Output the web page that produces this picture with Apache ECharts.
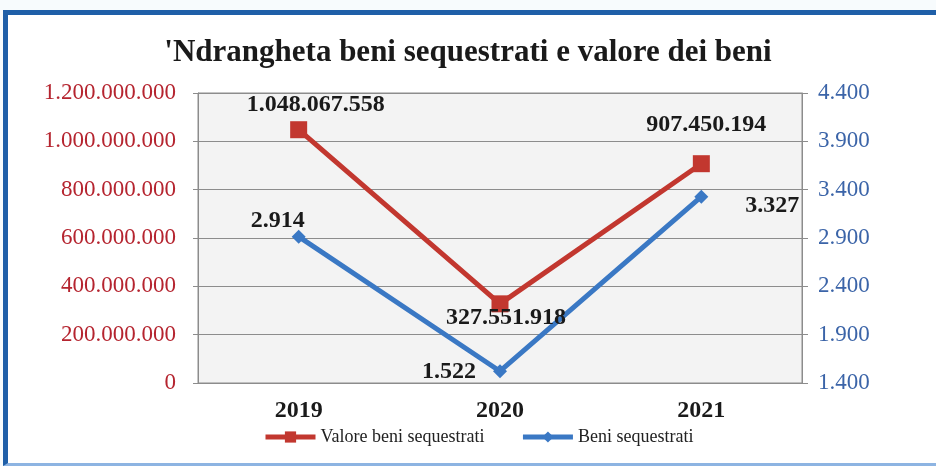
<!DOCTYPE html>
<html>
<head>
<meta charset="utf-8">
<script src="https://cdn.jsdelivr.net/npm/echarts@6/dist/echarts.min.js"></script>
<style>
  html, body { margin: 0; padding: 0; background: #f7fbfd; }
  #frame {
    position: absolute; left: 3px; top: 10px; width: 940px; height: 448px;
    border-top: 5px solid #1f5fa8; border-left: 5px solid #1f5fa8;
    border-bottom: 3px solid #8db4e2; background: #fff;
  }
  #main { position: absolute; left: 0; top: 0; width: 936px; height: 466px; }
</style>
</head>
<body>
<div id="frame"></div>
<div id="main"></div>
<script>
const years = ['2019', '2020', '2021']
const valoreBeni = [1048067558, 327551918, 907450194]
const beniSequestrati = [2914, 1522, 3327]
const leftTicks = [0, 1200000000, 200000000]
const rightTicks = [1400, 4400, 500]

const serif = '"Liberation Serif", "DejaVu Serif", serif'
const fmt = v => String(v).replace(/\B(?=(\d{3})+(?!\d))/g, '.')

// label placement per point
const redLabels = [
  { position: 'top', offset: [17, 1] },
  { position: 'bottom', offset: [6, -12] },
  { position: 'top', offset: [5, -13] }
]
const blueLabels = [
  { position: 'top', offset: [-21, 8] },
  { position: 'left', offset: [-12, 1] },
  { position: 'right', offset: [32, 9] }
]

const chart = echarts.init(document.getElementById('main'))
chart.setOption({
  backgroundColor: 'transparent',
  title: {
    text: "'Ndrangheta beni sequestrati e valore dei beni",
    left: 'center',
    top: 32,
    textStyle: { fontFamily: serif, fontWeight: 'bold', fontSize: 31, color: '#1a1a1a' }
  },
  legend: {
    top: 423,
    left: 258,
    itemWidth: 50,
    itemHeight: 14,
    itemGap: 36,
    lineStyle: { width: 5 },
    textStyle: { fontFamily: serif, fontSize: 18, color: '#222' },
    data: ['Valore beni sequestrati', 'Beni sequestrati']
  },
  grid: { left: 198, right: 134, top: 93, bottom: 83, show: true, backgroundColor: '#f3f3f3', borderColor: '#8c8c8c', borderWidth: 1 },
  xAxis: {
    type: 'category',
    data: years,
    boundaryGap: true,
    axisLine: { show: false },
    axisTick: { show: false },
    axisLabel: { fontFamily: serif, fontWeight: 'bold', fontSize: 24, color: '#1a1a1a', margin: 16 }
  },
  yAxis: [
    {
      type: 'value',
      min: leftTicks[0], max: leftTicks[1], interval: leftTicks[2],
      axisLine: { show: true, lineStyle: { color: '#8c8c8c' } },
      axisTick: { show: true, length: 5, lineStyle: { color: '#8c8c8c' } },
      splitLine: { lineStyle: { color: '#8c8c8c' } },
      axisLabel: { fontFamily: serif, fontSize: 23, color: '#b5242f', margin: 22, formatter: fmt }
    },
    {
      type: 'value',
      min: rightTicks[0], max: rightTicks[1], interval: rightTicks[2],
      axisLine: { show: true, lineStyle: { color: '#8c8c8c' } },
      axisTick: { show: true, length: 6, lineStyle: { color: '#8c8c8c' } },
      splitLine: { show: false },
      axisLabel: { fontFamily: serif, fontSize: 23, color: '#3b64a8', margin: 16, formatter: fmt }
    }
  ],
  series: [
    {
      name: 'Valore beni sequestrati',
      type: 'line',
      yAxisIndex: 0,
      symbol: 'rect',
      symbolSize: 17,
      lineStyle: { width: 5, color: '#c2372f' },
      itemStyle: { color: '#c2372f' },
      z: 3,
      data: valoreBeni.map((v, i) => ({
        value: v,
        label: Object.assign({
          show: true, formatter: p => fmt(p.value),
          fontFamily: serif, fontWeight: 'bold', fontSize: 24, color: '#1a1a1a'
        }, redLabels[i])
      }))
    },
    {
      name: 'Beni sequestrati',
      type: 'line',
      yAxisIndex: 1,
      symbol: 'diamond',
      symbolSize: 14,
      lineStyle: { width: 5, color: '#3a78c4' },
      itemStyle: { color: '#3a78c4' },
      z: 2,
      data: beniSequestrati.map((v, i) => ({
        value: v,
        label: Object.assign({
          show: true, formatter: p => fmt(p.value),
          fontFamily: serif, fontWeight: 'bold', fontSize: 24, color: '#1a1a1a'
        }, blueLabels[i])
      }))
    }
  ]
})
</script>
</body>
</html>
